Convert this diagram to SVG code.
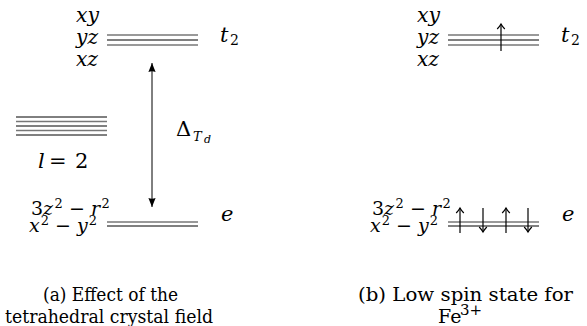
<svg xmlns="http://www.w3.org/2000/svg" width="587" height="326" viewBox="0 0 587 326">
<style>
text { font-family: "DejaVu Serif", "Liberation Serif", serif; fill: #000; }
.m { font-style: italic; font-size: 21px; }
.r { font-size: 21px; }
.e { font-size: 19px; }
.s { font-size: 14px; font-style: normal; }
.se { font-size: 13px; font-style: normal; }
.si { font-size: 13px; font-style: italic; }
.ssi { font-size: 11px; font-style: italic; }
.cap { font-size: 19px; }
.it { font-style: italic; }
.up { font-style: normal; }
.lb { stroke: #000; stroke-width: 1; fill: none; }
.lg { stroke: #777; stroke-width: 1.3; fill: none; }
.spin { stroke: #000; stroke-width: 1.2; fill: none; }
.gap { stroke: #000; stroke-width: 1; fill: none; }
</style>
<defs>
<marker id="latex" viewBox="0 -4 9 8" refX="9" refY="0" markerWidth="9" markerHeight="8" markerUnits="userSpaceOnUse" orient="auto-start-reverse">
<path d="M0,-3.6 L9,0 L0,3.6 Q1.5,0 0,-3.6 Z" fill="#000"/>
</marker>
<marker id="chev" viewBox="-6 -5 7 10" refX="0" refY="0" markerWidth="7" markerHeight="10" markerUnits="userSpaceOnUse" orient="auto" overflow="visible">
<path d="M-5,-3.8 Q-2,-1 0,0 Q-2,1 -5,3.8" stroke="#000" stroke-width="1.2" fill="none"/>
</marker>
</defs>

<g id="t2-left">
<text class="m" x="76" y="22" textLength="23" lengthAdjust="spacingAndGlyphs">xy</text>
<text class="m" x="76" y="44" textLength="22" lengthAdjust="spacingAndGlyphs">yz</text>
<text class="m" x="76" y="66" textLength="22" lengthAdjust="spacingAndGlyphs">xz</text>
<line class="lg" x1="107" y1="35" x2="198" y2="35"/>
<line class="lb" x1="107" y1="40" x2="198" y2="40"/>
<line class="lg" x1="107" y1="45" x2="198" y2="45"/>
<text class="m" x="220" y="41.5">t<tspan class="s" x="230" y="44.5">2</tspan></text>
</g>

<g id="free-ion">
<line class="lb" x1="16" y1="117" x2="107" y2="117"/>
<line class="lg" x1="16" y1="121.5" x2="107" y2="121.5"/>
<line class="lb" x1="16" y1="126" x2="107" y2="126"/>
<line class="lg" x1="16" y1="130.5" x2="107" y2="130.5"/>
<line class="lb" x1="16" y1="135" x2="107" y2="135"/>
<text class="m" x="38" y="168">l<tspan class="up" x="49">=</tspan><tspan class="up" x="75">2</tspan></text>
</g>

<g id="e-left">
<text class="e" x="31" y="215">3<tspan class="it">z</tspan><tspan class="se" dx="1.5" dy="-7.5">2</tspan><tspan dy="7.5"> − </tspan><tspan class="it">r</tspan><tspan class="se" dx="1.5" dy="-7.5">2</tspan></text>
<text class="e it" x="29" y="232">x<tspan class="se" dx="1" dy="-7.5">2</tspan><tspan class="up" dy="7.5"> − </tspan>y<tspan class="se" dx="1" dy="-7.5">2</tspan></text>
<line class="lg" x1="107" y1="222" x2="198" y2="222"/>
<line class="lb" x1="107" y1="226" x2="198" y2="226"/>
<text class="m" x="221" y="221">e</text>
</g>

<g id="delta-label">
<text class="r" x="176" y="136">Δ<tspan class="si" x="193" y="141">T</tspan><tspan class="ssi" x="204" y="143">d</tspan></text>
</g>

<g id="connectors">
<line class="gap" x1="152" y1="63" x2="152" y2="207" marker-start="url(#latex)" marker-end="url(#latex)"/>
</g>

<g id="t2-right">
<text class="m" x="417" y="22" textLength="23" lengthAdjust="spacingAndGlyphs">xy</text>
<text class="m" x="417" y="44" textLength="22" lengthAdjust="spacingAndGlyphs">yz</text>
<text class="m" x="417" y="66" textLength="22" lengthAdjust="spacingAndGlyphs">xz</text>
<line class="lg" x1="448" y1="35" x2="539" y2="35"/>
<line class="lb" x1="448" y1="40" x2="539" y2="40"/>
<line class="lg" x1="448" y1="45" x2="539" y2="45"/>
<text class="m" x="561" y="41.5">t<tspan class="s" x="571" y="44.5">2</tspan></text>
</g>

<g id="e-right">
<text class="e" x="372" y="215">3<tspan class="it">z</tspan><tspan class="se" dx="1.5" dy="-7.5">2</tspan><tspan dy="7.5"> − </tspan><tspan class="it">r</tspan><tspan class="se" dx="1.5" dy="-7.5">2</tspan></text>
<text class="e it" x="370" y="232">x<tspan class="se" dx="1" dy="-7.5">2</tspan><tspan class="up" dy="7.5"> − </tspan>y<tspan class="se" dx="1" dy="-7.5">2</tspan></text>
<line class="lg" x1="448" y1="222" x2="539" y2="222"/>
<line class="lb" x1="448" y1="226" x2="539" y2="226"/>
<text class="m" x="562" y="221">e</text>
</g>

<g id="electrons">
<line class="spin" x1="501" y1="51" x2="501" y2="24" marker-end="url(#chev)"/>
<line class="spin" x1="460" y1="233" x2="460" y2="208" marker-end="url(#chev)"/>
<line class="spin" x1="483" y1="208" x2="483" y2="232" marker-end="url(#chev)"/>
<line class="spin" x1="506" y1="233" x2="506" y2="208" marker-end="url(#chev)"/>
<line class="spin" x1="528" y1="208" x2="528" y2="232" marker-end="url(#chev)"/>
</g>

<g id="caption-a">
<text class="cap" x="110.5" y="300.5" text-anchor="middle" textLength="135" lengthAdjust="spacingAndGlyphs">(a) Effect of the</text>
<text class="cap" x="109" y="322.5" text-anchor="middle" textLength="208" lengthAdjust="spacingAndGlyphs">tetrahedral crystal field</text>
</g>

<g id="caption-b">
<text class="cap" x="465.5" y="300.5" text-anchor="middle" textLength="215" lengthAdjust="spacingAndGlyphs">(b) Low spin state for</text>
<text class="cap" x="438" y="322.5">Fe<tspan x="460" y="315" font-size="15">3+</tspan></text>
</g>
</svg>
